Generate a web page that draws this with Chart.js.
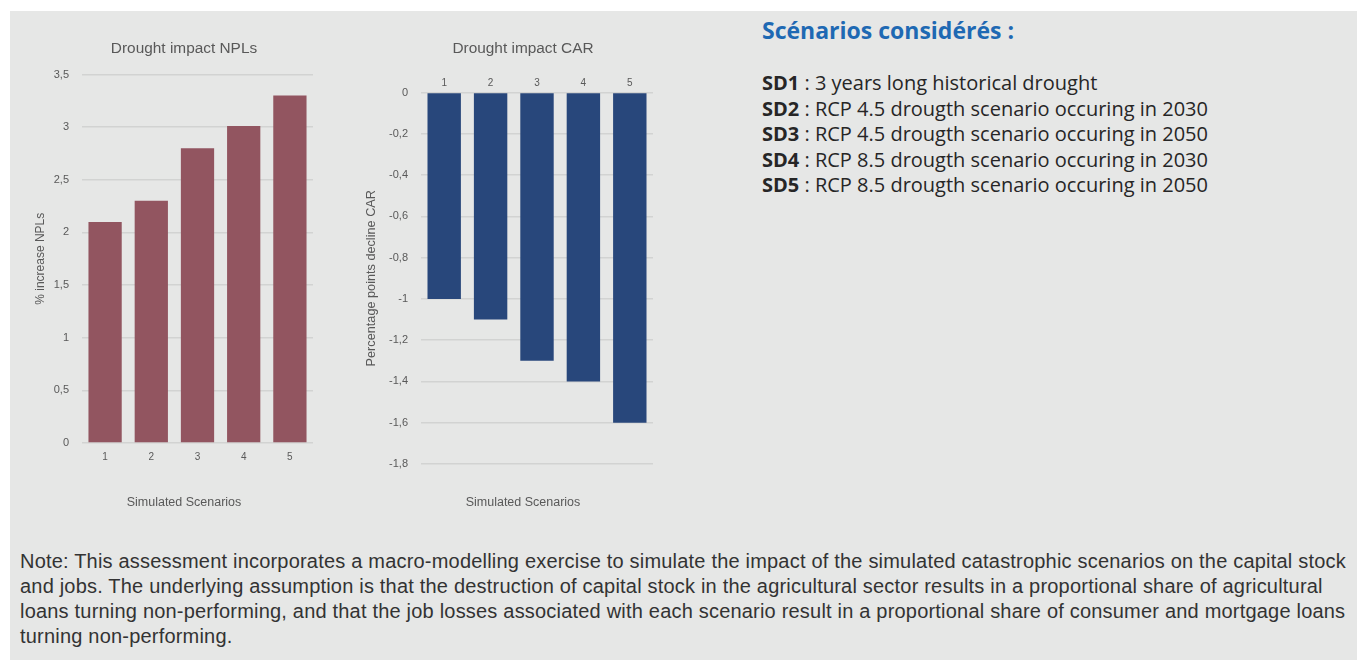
<!DOCTYPE html>
<html>
<head>
<meta charset="utf-8">
<script src="https://cdn.jsdelivr.net/npm/chart.js@4.4.1/dist/chart.umd.min.js"></script>
<style>
  html, body { margin: 0; padding: 0; background: #ffffff; width: 1357px; height: 660px; overflow: hidden; }
  #panel { position: absolute; left: 10px; top: 11px; width: 1347px; height: 649px; background: #e6e7e6; }
  .chart-box { position: absolute; top: 28px; height: 500px; }
  #box1 { left: 20px; width: 328px; }
  #box2 { left: 360px; width: 326px; }
  #legend { position: absolute; left: 762px; top: 14px; font-family: "Open Sans", "Liberation Sans", sans-serif; color: #262626; }
  #legend h2 { margin: 0 0 24px 0; font-size: 23px; font-weight: 700; color: #1e69b3; }
  #legend p { margin: 0; font-size: 20px; line-height: 25.5px; }
  #note { position: absolute; left: 20px; top: 549px; white-space: nowrap; font-family: "Liberation Sans", sans-serif; font-size: 20px; letter-spacing: 0.2px; line-height: 25px; color: #333333; }
</style>
</head>
<body>
<div id="panel"></div>
<div class="chart-box" id="box1"><canvas id="chartNPL"></canvas></div>
<div class="chart-box" id="box2"><canvas id="chartCAR"></canvas></div>
<div id="legend"></div>
<div id="note">Note: This assessment incorporates a macro-modelling exercise to simulate the impact of the simulated catastrophic scenarios on the capital stock<br>and jobs. The underlying assumption is that the destruction of capital stock in the agricultural sector results in a proportional share of agricultural<br>loans turning non-performing, and that the job losses associated with each scenario result in a proportional share of consumer and mortgage loans<br>turning non-performing.</div>

<script>
/* --- Data ------------------------------------------------- */
const SCENARIOS = ['1', '2', '3', '4', '5'];
const NPL_VALUES = [2.1, 2.3, 2.8, 3.01, 3.3];
const CAR_VALUES = [-1.0, -1.1, -1.3, -1.4, -1.6];
const SCENARIO_CODES = ['SD1', 'SD2', 'SD3', 'SD4', 'SD5'];
const SCENARIO_TEXT = [
  '3 years long historical drought',
  'RCP 4.5 drougth scenario occuring in 2030',
  'RCP 4.5 drougth scenario occuring in 2050',
  'RCP 8.5 drougth scenario occuring in 2030',
  'RCP 8.5 drougth scenario occuring in 2050',
];

/* --- Legend text ------------------------------------------ */
const legend = document.getElementById('legend');
legend.innerHTML = '<h2>Scénarios considérés :</h2>' +
  SCENARIO_CODES.map((c, i) => '<p><b>' + c + '</b> : ' + SCENARIO_TEXT[i] + '</p>').join('');

/* --- Shared styles ---------------------------------------- */
const GREY = '#595959';
const GRID = '#d2d3d2';
const FONT = '"Liberation Sans", Arial, sans-serif';
const fmt = v => (Math.round(v * 10) / 10).toString().replace('.', ',');

function titleOpts(text) {
  return { display: true, text, color: GREY, font: { family: FONT, size: 15.4, weight: 'normal' }, padding: { top: 12, bottom: 16 } };
}
function subOpts(padTop) {
  return { display: true, position: 'bottom', text: 'Simulated Scenarios', color: GREY, font: { family: FONT, size: 12.5 }, padding: { top: padTop, bottom: 18 } };
}
// empty right-hand axis: keeps the plot narrow while titles stay centred on the canvas
function spacerAxis(w) {
  return {
    position: 'right', display: true,
    grid: { display: false, drawTicks: false }, ticks: { display: false }, border: { display: false },
    afterFit: s => { s.width = w; }
  };
}

/* --- 1. NPL chart ----------------------------------------- */
new Chart(document.getElementById('chartNPL'), {
  type: 'bar',
  data: {
    labels: SCENARIOS,
    datasets: [{ data: NPL_VALUES, backgroundColor: '#925560', categoryPercentage: 0.72, barPercentage: 1 }]
  },
  options: {
    responsive: true,
    maintainAspectRatio: false,
    animation: false,
    plugins: {
      legend: { display: false },
      tooltip: { enabled: false },
      title: titleOpts('Drought impact NPLs'),
      subtitle: subOpts(24),
    },
    scales: {
      y: {
        min: 0, max: 3.5,
        afterFit: s => { s.width = 62; },
        ticks: { stepSize: 0.5, color: GREY, font: { family: FONT, size: 11 }, padding: 13, callback: fmt },
        grid: { color: GRID, lineWidth: 1.5, drawTicks: false },
        border: { display: false },
        title: { display: true, text: '% increase NPLs', color: GREY, font: { family: FONT, size: 12 }, padding: { top: 13, bottom: 4 } }
      },
      yR: spacerAxis(35),
      x: {
        ticks: { color: GREY, font: { family: FONT, size: 10 }, padding: 8 },
        grid: { display: false, drawTicks: false },
        border: { display: false }
      }
    }
  }
});

/* --- 2. CAR chart ----------------------------------------- */
new Chart(document.getElementById('chartCAR'), {
  type: 'bar',
  data: {
    labels: SCENARIOS,
    datasets: [{ data: CAR_VALUES, backgroundColor: '#28477b', categoryPercentage: 0.72, barPercentage: 1 }]
  },
  options: {
    responsive: true,
    maintainAspectRatio: false,
    animation: false,
    plugins: {
      legend: { display: false },
      tooltip: { enabled: false },
      title: titleOpts('Drought impact CAR'),
      subtitle: subOpts(31),
    },
    scales: {
      y: {
        min: -1.8, max: 0,
        afterFit: s => { s.width = 61; },
        ticks: { stepSize: 0.2, color: GREY, font: { family: FONT, size: 11 }, padding: 13, callback: fmt },
        grid: { color: GRID, lineWidth: 1.5, drawTicks: false },
        border: { display: false },
        title: { display: true, text: 'Percentage points decline CAR', color: GREY, font: { family: FONT, size: 12.7 } }
      },
      yR: spacerAxis(33),
      x: {
        position: 'top',
        ticks: { color: GREY, font: { family: FONT, size: 10 }, padding: 3 },
        grid: { display: false, drawTicks: false },
        border: { display: false }
      }
    }
  }
});
</script>
</body>
</html>
